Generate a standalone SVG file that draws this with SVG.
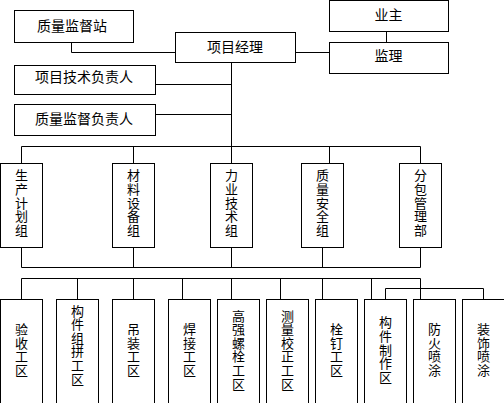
<svg xmlns="http://www.w3.org/2000/svg" width="504" height="403" viewBox="0 0 504 403">
<style>
rect{fill:#fff;stroke:#000;stroke-width:1}
.c path{fill:none;stroke:#000;stroke-width:1}
text{font-family:"Noto Sans CJK SC","Noto Sans",sans-serif;fill:#000;text-anchor:middle;dominant-baseline:central}
.h{font-size:14px}
.v{font-size:13px;writing-mode:vertical-rl;letter-spacing:0.6px}
</style>
<rect x="0" y="0" width="504" height="403" style="stroke:none"/>
<g class="c">
<path d="M71.5 42.5V52.5H175.5"/>
<path d="M295.5 52.5H329.5"/>
<path d="M386.5 31.5V42.5"/>
<path d="M231.5 62.5V163.5"/>
<path d="M155.5 84.5H231.5"/>
<path d="M155.5 114.5H231.5"/>
<path d="M21.5 163.5V146.5H420.5V163.5"/>
<path d="M133.5 146.5V163.5"/>
<path d="M329.5 146.5V163.5"/>
<path d="M21.5 247.5V267.5H420.5V247.5"/>
<path d="M133.5 247.5V267.5"/>
<path d="M231.5 247.5V267.5"/>
<path d="M322.5 247.5V267.5"/>
<path d="M21.5 299.5V278.5H420.5V299.5"/>
<path d="M77.5 278.5V299.5M133.5 278.5V299.5M182.5 278.5V299.5M231.5 278.5V299.5M280.5 278.5V299.5M322.5 278.5V299.5M371.5 278.5V299.5"/>
<path d="M385.5 299.5V288.5H483.5V299.5"/>
</g>
<g id="n-zljdz"><rect x="14.5" y="10.5" width="119" height="32"/><text class="h" x="72" y="24.5">质量监督站</text></g>
<g id="n-xmjl"><rect x="175.5" y="32.5" width="120" height="30"/><text class="h" x="235" y="46">项目经理</text></g>
<g id="n-yz"><rect x="329.5" y="0.5" width="119" height="31"/><text class="h" x="388.5" y="14">业主</text></g>
<g id="n-jl"><rect x="329.5" y="42.5" width="119" height="31"/><text class="h" x="388.5" y="55">监理</text></g>
<g id="n-xmjsfzr"><rect x="14.5" y="65.5" width="141" height="29"/><text class="h" x="84" y="76">项目技术负责人</text></g>
<g id="n-zljdfzr"><rect x="14.5" y="104.5" width="141" height="31"/><text class="h" x="84" y="118">质量监督负责人</text></g>
<g id="n-scjhz"><rect x="0.5" y="163.5" width="42" height="84"/><text class="v" x="21.5" y="203">生产计划组</text></g>
<g id="n-clsbz"><rect x="112.5" y="163.5" width="42" height="84"/><text class="v" x="133.5" y="203">材料设备组</text></g>
<g id="n-lyjsz"><rect x="210.5" y="163.5" width="42" height="84"/><text class="v" x="231.5" y="203">力业技术组</text></g>
<g id="n-zlaqz"><rect x="301.5" y="163.5" width="42" height="84"/><text class="v" x="322.5" y="203">质量安全组</text></g>
<g id="n-fbglb"><rect x="399.5" y="163.5" width="42" height="84"/><text class="v" x="420.5" y="203">分包管理部</text></g>
<g id="n-ys"><rect x="0.5" y="299.5" width="42" height="120"/><text class="v" x="21.5" y="350">验收工区</text></g>
<g id="n-gjzp"><rect x="56.5" y="299.5" width="42" height="120"/><text class="v" x="77.5" y="345">构件组拼工区</text></g>
<g id="n-dz"><rect x="112.5" y="299.5" width="42" height="120"/><text class="v" x="133.5" y="350">吊装工区</text></g>
<g id="n-hj"><rect x="168.5" y="299.5" width="42" height="120"/><text class="v" x="189.5" y="350">焊接工区</text></g>
<g id="n-gqls"><rect x="217.5" y="299.5" width="42" height="120"/><text class="v" x="238.5" y="350">高强螺栓工区</text></g>
<g id="n-clxz"><rect x="266.5" y="299.5" width="42" height="120"/><text class="v" x="287.5" y="350">测量校正工区</text></g>
<g id="n-sd"><rect x="315.5" y="299.5" width="42" height="120"/><text class="v" x="336.5" y="350">栓钉工区</text></g>
<g id="n-gjzz"><rect x="364.5" y="299.5" width="42" height="120"/><text class="v" x="385.5" y="350">构件制作区</text></g>
<g id="n-fhpt"><rect x="413.5" y="299.5" width="42" height="120"/><text class="v" x="434.5" y="350">防火喷涂</text></g>
<g id="n-zspt"><rect x="462.5" y="299.5" width="42" height="120"/><text class="v" x="483.5" y="350">装饰喷涂</text></g>
</svg>
